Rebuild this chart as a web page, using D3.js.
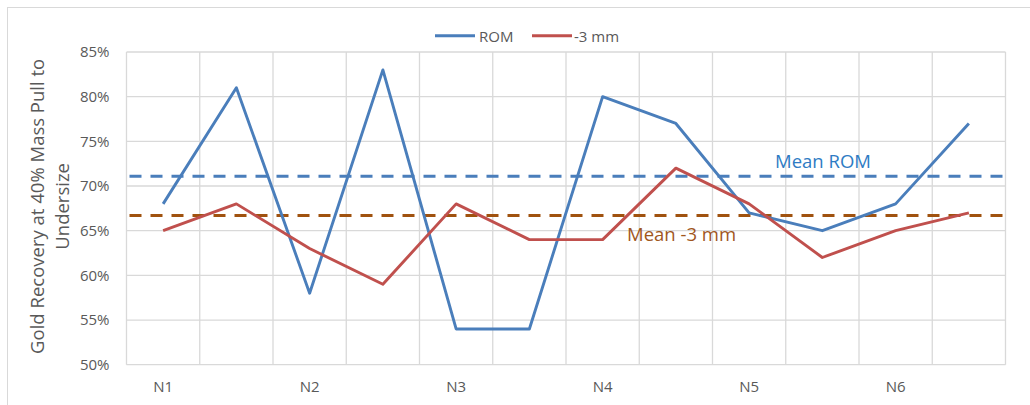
<!DOCTYPE html>
<html>
<head>
<meta charset="utf-8">
<script src="https://cdn.jsdelivr.net/npm/d3@7/dist/d3.min.js"></script>
<style>
  html, body { margin: 0; padding: 0; background: #ffffff; }
  svg { display: block; font-family: "Open Sans", "Noto Sans", sans-serif; }
</style>
</head>
<body>
<svg id="chart" width="1030" height="405"></svg>
<script>
// ---- data ----
const categories = ["N1", "", "N2", "", "N3", "", "N4", "", "N5", "", "N6", ""];
const romValues = [0.68, 0.81, 0.58, 0.83, 0.54, 0.54, 0.80, 0.77, 0.67, 0.65, 0.68, 0.77];
const minus3Values = [0.65, 0.68, 0.63, 0.59, 0.68, 0.64, 0.64, 0.72, 0.68, 0.62, 0.65, 0.67];
const meanRom = 0.711;
const meanMinus3 = 0.667;
const yTicks = [0.50, 0.55, 0.60, 0.65, 0.70, 0.75, 0.80, 0.85];
const seriesNames = ["ROM", "-3 mm"];
const meanLabels = ["Mean ROM", "Mean -3 mm"];
const yTitleLines = ["Gold Recovery at 40% Mass Pull to", "Undersize"];

// ---- layout ----
const svg = d3.select("#chart");
const plot = { left: 126.5, right: 1005.5, top: 52, bottom: 364.7 };
const textColor = "#595959";
const gridColor = "#d9d9d9";
const romColor = "#4a7ebb";
const redColor = "#c0504d";
const meanRomColor = "#4a7ebb";
const meanRedColor = "#a0520f";

// chart frame
svg.append("rect")
  .attr("x", 7.5).attr("y", 7.5)
  .attr("width", 1040).attr("height", 420)
  .attr("fill", "none").attr("stroke", gridColor).attr("stroke-width", 1);

const x = d3.scaleBand().domain(d3.range(categories.length)).range([plot.left, plot.right]).padding(0);
const y = d3.scaleLinear().domain([0.5, 0.85]).range([plot.bottom, plot.top]);
const cx = i => x(i) + x.bandwidth() / 2;

// horizontal gridlines
svg.append("g").selectAll("line").data(yTicks).join("line")
  .attr("x1", plot.left).attr("x2", plot.right)
  .attr("y1", d => y(d)).attr("y2", d => y(d))
  .attr("stroke", gridColor).attr("stroke-width", 1.3);

// vertical gridlines at category boundaries
const boundaries = d3.range(categories.length + 1).map(i => i < categories.length ? x(i) : plot.right);
svg.append("g").selectAll("line").data(boundaries).join("line")
  .attr("x1", d => d).attr("x2", d => d)
  .attr("y1", plot.top).attr("y2", plot.bottom)
  .attr("stroke", gridColor).attr("stroke-width", 1.3);

// y axis labels
const yAxis = d3.axisLeft(y).tickValues(yTicks).tickFormat(d3.format(".0%")).tickSize(0).tickPadding(0);
const gy = svg.append("g").attr("transform", `translate(${plot.left - 17},0)`).call(yAxis);
gy.select(".domain").remove();
gy.selectAll("text").attr("fill", textColor).style("font-size", "15px").style("font-family", "Open Sans");

// x axis labels
const xAxis = d3.axisBottom(x).tickFormat(i => categories[i]).tickSize(0).tickPadding(0);
const gx = svg.append("g").attr("transform", `translate(0,${plot.bottom + 17})`).call(xAxis);
gx.select(".domain").remove();
gx.selectAll("text").attr("fill", textColor).style("font-size", "15px").style("font-family", "Open Sans");

// y axis title
const titleG = svg.append("text")
  .attr("transform", `translate(0,${(plot.top + plot.bottom) / 2 - 2}) rotate(-90)`)
  .attr("text-anchor", "middle")
  .attr("fill", textColor)
  .style("font-size", "18.5px");
titleG.selectAll("tspan").data(yTitleLines).join("tspan")
  .attr("x", 0)
  .attr("y", (d, i) => 44 + i * 25)
  .text(d => d);

// mean lines
const means = [meanRom, meanMinus3];
const meanColors = [meanRomColor, meanRedColor];
svg.append("g").selectAll("line").data(means).join("line")
  .attr("x1", plot.left + 3).attr("x2", plot.right)
  .attr("y1", d => y(d)).attr("y2", d => y(d))
  .attr("stroke", (d, i) => meanColors[i])
  .attr("stroke-width", 3)
  .attr("stroke-dasharray", "12,9");

// series lines
const line = d3.line().x((d, i) => cx(i)).y(d => y(d));
const series = [romValues, minus3Values];
const seriesColors = [romColor, redColor];
svg.append("g").selectAll("path").data(series).join("path")
  .attr("d", d => line(d))
  .attr("fill", "none")
  .attr("stroke", (d, i) => seriesColors[i])
  .attr("stroke-width", 2.9)
  .attr("stroke-linejoin", "round");

// mean labels
const meanLabelPos = [{ x: 775, y: 168 }, { x: 627, y: 241 }];
const meanTextColors = ["#2e7bc4", "#a0561c"];
svg.append("g").selectAll("text").data(meanLabels).join("text")
  .attr("x", (d, i) => meanLabelPos[i].x)
  .attr("y", (d, i) => meanLabelPos[i].y)
  .attr("fill", (d, i) => meanTextColors[i])
  .style("font-size", "18.5px")
  .text(d => d);

// legend
const legendItems = [{ x: 435, tx: 479 }, { x: 532, tx: 574 }];
const lg = svg.append("g");
lg.selectAll("line").data(seriesNames).join("line")
  .attr("x1", (d, i) => legendItems[i].x).attr("x2", (d, i) => legendItems[i].x + 40)
  .attr("y1", 35.7).attr("y2", 35.7)
  .attr("stroke", (d, i) => seriesColors[i]).attr("stroke-width", 2.9);
lg.selectAll("text").data(seriesNames).join("text")
  .attr("x", (d, i) => legendItems[i].tx)
  .attr("y", 41.5)
  .attr("fill", textColor)
  .style("font-size", "15px")
  .text(d => d);
</script>
</body>
</html>
